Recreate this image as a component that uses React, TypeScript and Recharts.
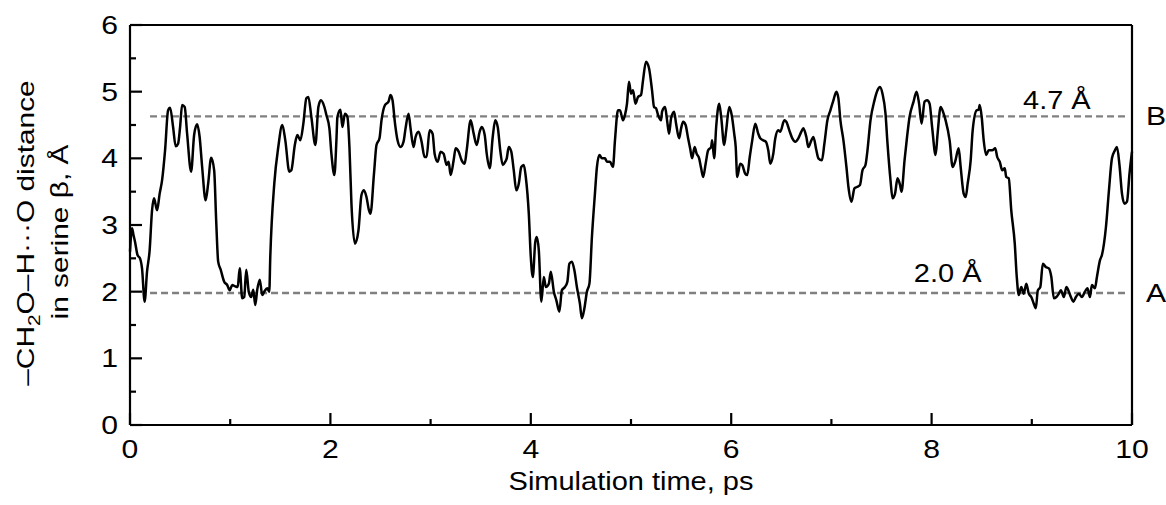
import { Line, LineChart, ReferenceDot, ReferenceLine, XAxis, YAxis } from "recharts";

// simulation time, ps
const times = [
  0.0, 0.02, 0.035, 0.05, 0.075, 0.1, 0.12, 0.146, 0.17, 0.196, 0.22, 0.24, 0.27, 0.296, 0.32, 0.35,
  0.38, 0.4, 0.43, 0.456, 0.48, 0.5, 0.52, 0.546, 0.57, 0.61, 0.64, 0.67, 0.695, 0.72, 0.755, 0.78,
  0.81, 0.84, 0.86, 0.88, 0.905, 0.94, 0.97, 0.995, 1.02, 1.05, 1.075, 1.095, 1.12, 1.14, 1.16, 1.185,
  1.21, 1.23, 1.25, 1.27, 1.295, 1.32, 1.34, 1.37, 1.39, 1.4, 1.44, 1.48, 1.52, 1.55, 1.59, 1.61,
  1.645, 1.67, 1.7, 1.73, 1.76, 1.78, 1.81, 1.85, 1.88, 1.905, 1.94, 1.96, 1.99, 2.01, 2.04, 2.06,
  2.07, 2.1, 2.12, 2.145, 2.17, 2.19, 2.21, 2.245, 2.28, 2.31, 2.335, 2.36, 2.385, 2.4, 2.435, 2.46,
  2.49, 2.51, 2.545, 2.58, 2.6, 2.62, 2.645, 2.67, 2.7, 2.73, 2.75, 2.78, 2.8, 2.83, 2.85, 2.88, 2.91,
  2.94, 2.96, 2.99, 3.02, 3.04, 3.07, 3.1, 3.13, 3.16, 3.18, 3.2, 3.23, 3.25, 3.28, 3.31, 3.34, 3.36,
  3.4, 3.43, 3.46, 3.49, 3.51, 3.54, 3.56, 3.59, 3.62, 3.645, 3.67, 3.695, 3.72, 3.745, 3.76, 3.78,
  3.805, 3.83, 3.855, 3.88, 3.905, 3.93, 3.95, 3.98, 4.0, 4.02, 4.045, 4.06, 4.08, 4.105, 4.13, 4.15,
  4.18, 4.2, 4.23, 4.255, 4.285, 4.31, 4.34, 4.365, 4.385, 4.41, 4.435, 4.46, 4.49, 4.51, 4.535, 4.56,
  4.585, 4.61, 4.64, 4.66, 4.685, 4.71, 4.74, 4.76, 4.79, 4.82, 4.84, 4.87, 4.89, 4.92, 4.94, 4.96,
  4.98, 5.0, 5.02, 5.045, 5.07, 5.1, 5.12, 5.15, 5.18, 5.21, 5.23, 5.25, 5.27, 5.3, 5.31, 5.34, 5.36,
  5.38, 5.4, 5.43, 5.45, 5.48, 5.5, 5.52, 5.545, 5.57, 5.59, 5.61, 5.635, 5.655, 5.68, 5.7, 5.72,
  5.745, 5.77, 5.8, 5.81, 5.83, 5.85, 5.88, 5.9, 5.93, 5.95, 5.98, 6.005, 6.03, 6.045, 6.06, 6.09,
  6.11, 6.14, 6.16, 6.185, 6.21, 6.24, 6.27, 6.29, 6.32, 6.345, 6.37, 6.39, 6.42, 6.44, 6.47, 6.49,
  6.53, 6.55, 6.58, 6.61, 6.64, 6.67, 6.7, 6.72, 6.75, 6.77, 6.8, 6.82, 6.85, 6.87, 6.905, 6.93, 6.96,
  6.99, 7.02, 7.05, 7.07, 7.09, 7.12, 7.15, 7.17, 7.2, 7.23, 7.255, 7.285, 7.31, 7.34, 7.36, 7.39,
  7.43, 7.46, 7.485, 7.51, 7.54, 7.56, 7.59, 7.61, 7.635, 7.66, 7.685, 7.7, 7.73, 7.755, 7.78, 7.82,
  7.85, 7.875, 7.9, 7.93, 7.955, 7.98, 8.005, 8.04, 8.06, 8.09, 8.12, 8.14, 8.18, 8.21, 8.235, 8.27,
  8.29, 8.32, 8.34, 8.36, 8.39, 8.41, 8.45, 8.47, 8.48, 8.5, 8.52, 8.545, 8.57, 8.605, 8.635, 8.655,
  8.68, 8.705, 8.73, 8.745, 8.77, 8.795, 8.83, 8.85, 8.87, 8.895, 8.92, 8.945, 8.97, 8.995, 9.02, 9.04,
  9.06, 9.085, 9.11, 9.14, 9.17, 9.195, 9.22, 9.245, 9.27, 9.29, 9.32, 9.345, 9.37, 9.39, 9.415, 9.44,
  9.47, 9.5, 9.53, 9.555, 9.58, 9.6, 9.63, 9.65, 9.68, 9.7, 9.74, 9.77, 9.8, 9.83, 9.85, 9.875, 9.9,
  9.925, 9.95, 9.975, 10.0,
];

// -CH2O-H...O distance, Å
const distances = [
  2.6, 2.95, 2.85, 2.75, 2.55, 2.5, 2.35, 1.85, 2.3, 2.62, 3.22, 3.4, 3.22, 3.47, 3.67, 4.12,
  4.72, 4.76, 4.47, 4.18, 4.22, 4.47, 4.8, 4.77, 4.37, 3.8, 4.35, 4.51, 4.32, 3.87, 3.37, 3.62,
  4.01, 3.82, 3.07, 2.45, 2.33, 2.15, 2.1, 2.02, 2.1, 2.08, 2.07, 2.35, 1.9, 1.92, 2.33, 2.0,
  1.92, 2.03, 1.8, 2.03, 2.18, 1.95, 2.0, 2.05, 2.0, 2.52, 3.62, 4.17, 4.5, 4.27, 3.8, 3.82,
  4.2, 4.35, 4.27, 4.52, 4.9, 4.92, 4.62, 4.2, 4.77, 4.87, 4.77, 4.65, 4.45, 4.07, 3.75, 4.27,
  4.62, 4.73, 4.47, 4.67, 4.62, 4.17, 3.32, 2.72, 2.92, 3.45, 3.52, 3.42, 3.22, 3.17, 3.77, 4.2,
  4.3, 4.57, 4.8, 4.85, 4.95, 4.87, 4.52, 4.27, 4.17, 4.25, 4.45, 4.67, 4.45, 4.17, 4.32, 4.4, 4.25,
  4.02, 4.02, 4.42, 4.37, 4.07, 3.95, 4.1, 4.07, 3.9, 3.95, 3.75, 3.97, 4.15, 4.1, 3.97, 3.92, 4.12,
  4.57, 4.37, 4.2, 4.4, 4.47, 4.35, 4.07, 3.85, 4.32, 4.57, 4.47, 4.12, 3.9, 3.95, 4.0, 4.17,
  4.1, 3.82, 3.52, 3.62, 3.87, 3.9, 3.72, 3.17, 2.52, 2.22, 2.75, 2.82, 2.62, 1.85, 2.22, 2.07,
  2.12, 2.3, 2.0, 1.87, 1.7, 2.02, 2.07, 2.15, 2.42, 2.45, 2.32, 2.07, 1.82, 1.6, 1.75, 2.0,
  2.12, 2.82, 3.47, 3.87, 4.05, 4.0, 4.0, 3.95, 3.95, 3.87, 4.27, 4.72, 4.72, 4.57, 4.65, 4.82,
  5.15, 4.97, 5.02, 4.82, 4.92, 4.95, 5.17, 5.45, 5.35, 5.02, 4.77, 4.75, 4.65, 4.57, 4.7, 4.77, 4.57,
  4.37, 4.6, 4.7, 4.52, 4.3, 4.45, 4.55, 4.5, 4.3, 4.15, 4.0, 4.17, 4.07, 4.0, 3.85, 3.72,
  3.92, 4.12, 4.17, 4.27, 4.0, 4.47, 4.82, 4.62, 4.2, 4.42, 4.77, 4.65, 4.37, 4.17, 3.72, 3.92,
  3.9, 3.77, 3.75, 4.02, 4.27, 4.52, 4.37, 4.3, 4.27, 4.25, 4.12, 3.92, 4.07, 4.3, 4.42, 4.4,
  4.57, 4.55, 4.42, 4.3, 4.25, 4.3, 4.4, 4.45, 4.32, 4.17, 4.27, 4.32, 4.12, 4.0, 3.97, 4.22, 4.57,
  4.72, 4.87, 5.0, 4.9, 4.57, 4.27, 3.87, 3.57, 3.35, 3.55, 3.57, 3.6, 3.82, 3.9, 4.12, 4.57,
  4.87, 5.02, 5.07, 4.97, 4.67, 4.22, 3.67, 3.4, 3.47, 3.7, 3.6, 3.5, 3.97, 4.32, 4.62, 4.85,
  5.0, 4.82, 4.52, 4.85, 4.87, 4.82, 4.47, 4.05, 4.37, 4.77, 4.67, 4.57, 4.27, 3.87, 3.95, 4.15,
  3.87, 3.47, 3.42, 3.62, 3.97, 4.42, 4.72, 4.73, 4.8, 4.62, 4.27, 4.05, 4.12, 4.12, 4.15, 4.02,
  3.95, 3.82, 3.85, 3.72, 3.7, 3.22, 2.72, 2.22, 1.95, 2.07, 1.97, 2.12, 1.97, 1.92, 1.82, 1.75,
  2.02, 2.07, 2.42, 2.37, 2.35, 2.22, 1.9, 1.92, 1.97, 2.02, 1.92, 2.07, 2.0, 1.92, 1.85, 1.92,
  1.97, 1.92, 2.0, 2.05, 1.92, 2.1, 2.05, 2.22, 2.47, 2.55, 2.97, 3.52, 4.0, 4.12, 4.17, 3.9, 3.47,
  3.32, 3.35, 3.77, 4.1,
];

const xTicks = [0, 1, 2, 3, 4, 5, 6, 7, 8, 9, 10];
const yTicks = [0, 0.5, 1, 1.5, 2, 2.5, 3, 3.5, 4, 4.5, 5, 5.5, 6];

// dashed reference levels (state B on top, state A below)
const levelValues = [4.63, 1.98];
const levelLabels = ["4.7 Å", "2.0 Å"];
const levelLabelX = [9.25, 8.16];
const stateLabels = ["B", "A"];
const levelStart = 0.2;
const levelEnd = 9.93;

const data = times.map((t, i) => ({ t, d: distances[i] }));

const FONT = '"Liberation Sans", Arial, sans-serif';
const STRETCH = 1.16;

function StretchText({
  x,
  y,
  children,
  anchor = "middle",
  rotate = 0,
  size = 25,
  stretch = STRETCH,
}: any) {
  return (
    <text
      transform={`translate(${x},${y}) rotate(${rotate}) scale(${stretch},1)`}
      textAnchor={anchor}
      fontSize={size}
      fontFamily={FONT}
      fill="#000"
    >
      {children}
    </text>
  );
}

function XTick({ x, y, payload }: any) {
  const v = payload.value;
  const major = v % 2 === 0;
  return (
    <g>
      <line x1={x} x2={x} y1={y} y2={y - (major ? 12 : 6)} stroke="#000" strokeWidth={2.2} />
      {major && (
        <StretchText x={x} y={y + 33} size={26}>
          {v}
        </StretchText>
      )}
    </g>
  );
}

function YTick({ x, y, payload }: any) {
  const v = payload.value;
  const major = Number.isInteger(v);
  return (
    <g>
      <line x1={x} x2={x + (major ? 12 : 6)} y1={y} y2={y} stroke="#000" strokeWidth={2.2} />
      {major && (
        <StretchText x={x - 12} y={y + 9} anchor="end" size={26}>
          {v}
        </StretchText>
      )}
    </g>
  );
}

export default function App() {
  return (
    <div style={{ position: "fixed", left: 0, top: 0, background: "#fff" }}>
      <LineChart
        width={1166}
        height={505}
        data={data}
        margin={{ top: 25, right: 34, bottom: 20, left: 70 }}
      >
        <XAxis
          dataKey="t"
          type="number"
          domain={[0, 10]}
          ticks={xTicks}
          interval={0}
          height={60}
          tickSize={0}
          tickMargin={0}
          tickLine={false}
          axisLine={{ stroke: "#000", strokeWidth: 2.2 }}
          tick={<XTick />}
        />
        <YAxis
          type="number"
          domain={[0, 6]}
          ticks={yTicks}
          interval={0}
          width={60}
          tickSize={0}
          tickMargin={0}
          tickLine={false}
          axisLine={{ stroke: "#000", strokeWidth: 2.2 }}
          tick={<YTick />}
        />
        <ReferenceLine y={6} stroke="#000" strokeWidth={2.2} />
        <ReferenceLine x={10} stroke="#000" strokeWidth={2.2} />
        {levelValues.map((v) => (
          <ReferenceLine
            key={v}
            segment={[
              { x: levelStart, y: v },
              { x: levelEnd, y: v },
            ]}
            stroke="#808080"
            strokeWidth={2.4}
            strokeDasharray="7 4"
          />
        ))}
        {levelValues.map((v, i) => (
          <ReferenceDot
            key={`lbl-${v}`}
            x={levelLabelX[i]}
            y={v}
            r={0}
            shape={(p: any) => (
              <StretchText x={p.cx} y={p.cy - (i === 0 ? 7 : 11.5)}>
                {levelLabels[i]}
              </StretchText>
            )}
          />
        ))}
        {levelValues.map((v, i) => (
          <ReferenceDot
            key={`state-${v}`}
            x={10}
            y={v}
            r={0}
            shape={(p: any) => (
              <StretchText x={p.cx + 14} y={p.cy + 9} anchor="start" size={26}>
                {stateLabels[i]}
              </StretchText>
            )}
          />
        ))}
        <Line
          type="monotone"
          dataKey="d"
          stroke="#000"
          strokeWidth={2.5}
          dot={false}
          isAnimationActive={false}
        />
        <StretchText x={631} y={490}>
          Simulation time, ps
        </StretchText>
        <StretchText x={34} y={233} rotate={-90} size={23} stretch={1.3}>
          –CH
          <tspan fontSize={16} dy={6}>
            2
          </tspan>
          <tspan dy={-6}>O–H···O distance</tspan>
        </StretchText>
        <StretchText x={68} y={232} rotate={-90} size={23} stretch={1.3}>
          in serine β, Å
        </StretchText>
      </LineChart>
    </div>
  );
}
